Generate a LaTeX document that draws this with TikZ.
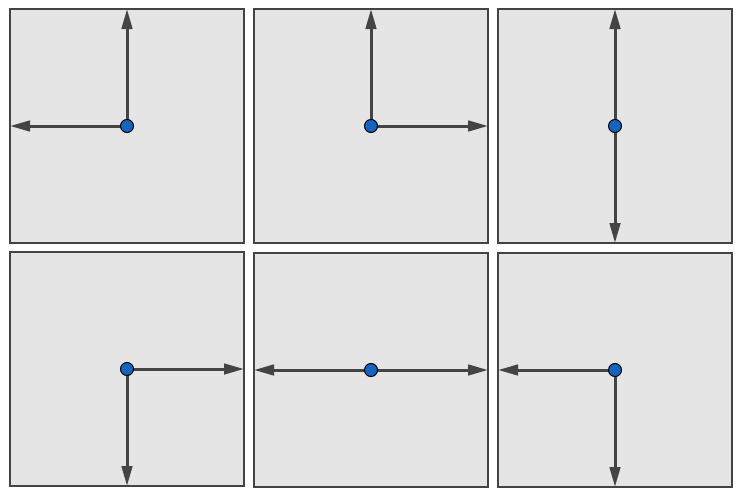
\documentclass[tikz,border=0pt]{standalone}
\usetikzlibrary{arrows.meta}
\definecolor{edgegray}{HTML}{444444}
\definecolor{panelfill}{HTML}{E5E5E5}
\definecolor{dotblue}{HTML}{1565C0}
\begin{document}
\begin{tikzpicture}[x=1pt,y=-1pt,
  panel/.style={draw=edgegray,fill=panelfill,line width=2.8pt},
  ray/.style={draw=edgegray,line width=3pt,-{Triangle[length=20pt,width=10.5pt]}},
  pivot/.style={circle,draw=black,fill=dotblue,line width=1pt,minimum size=13pt,inner sep=0pt}]
\useasboundingbox (0,0) rectangle (744,498);
% panels
\draw[panel] (10,9) rectangle (244,243);
\draw[panel] (254,9) rectangle (488,243);
\draw[panel] (498,9) rectangle (732,243);
\draw[panel] (10,252) rectangle (244,486);
\draw[panel] (254,253) rectangle (488,487);
\draw[panel] (498,253) rectangle (732,487);
% pivots
\coordinate (p1) at (127,126);
\coordinate (p2) at (371,126);
\coordinate (p3) at (615,126);
\coordinate (p4) at (127,369);
\coordinate (p5) at (371,370);
\coordinate (p6) at (615,370);
% ray ends
\coordinate (e1u) at (127,9);
\coordinate (e1l) at (10,126);
\coordinate (e2u) at (371,9);
\coordinate (e2r) at (488,126);
\coordinate (e3u) at (615,9);
\coordinate (e3d) at (615,243);
\coordinate (e4r) at (244,369);
\coordinate (e4d) at (127,486);
\coordinate (e5l) at (254,370);
\coordinate (e5r) at (488,370);
\coordinate (e6l) at (498,370);
\coordinate (e6d) at (615,487);
% rays
\draw[ray] (p1) -- (e1u);
\draw[ray] (p1) -- (e1l);
\draw[ray] (p2) -- (e2u);
\draw[ray] (p2) -- (e2r);
\draw[ray] (p3) -- (e3u);
\draw[ray] (p3) -- (e3d);
\draw[ray] (p4) -- (e4r);
\draw[ray] (p4) -- (e4d);
\draw[ray] (p5) -- (e5l);
\draw[ray] (p5) -- (e5r);
\draw[ray] (p6) -- (e6l);
\draw[ray] (p6) -- (e6d);
% dots
\node[pivot] (n1) at (p1) {};
\node[pivot] (n2) at (p2) {};
\node[pivot] (n3) at (p3) {};
\node[pivot] (n4) at (p4) {};
\node[pivot] (n5) at (p5) {};
\node[pivot] (n6) at (p6) {};
\end{tikzpicture}
\end{document}
